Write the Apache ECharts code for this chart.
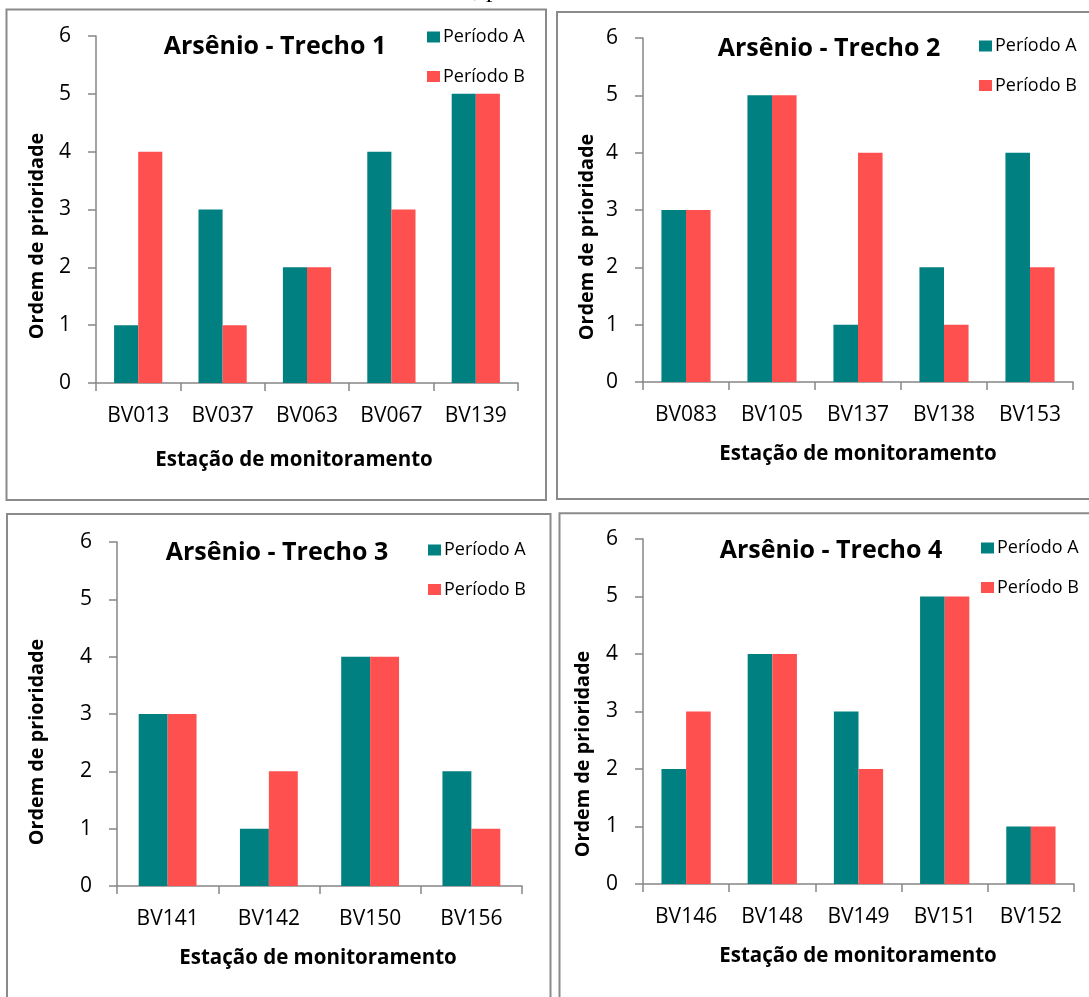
<!DOCTYPE html>
<html>
<head>
<meta charset="utf-8">
<script src="https://cdn.jsdelivr.net/npm/echarts@6/dist/echarts.min.js"></script>
<style>
html,body{margin:0;padding:0;background:#fff;}
#c{width:1089px;height:997px;}
</style>
</head>
<body>
<div id="c"></div>
<script>
// ---- data ----
const seriesNames = ['Período A', 'Período B'];
const titles = ['Arsênio - Trecho 1', 'Arsênio - Trecho 2', 'Arsênio - Trecho 3', 'Arsênio - Trecho 4'];
const cats1 = ['BV013', 'BV037', 'BV063', 'BV067', 'BV139'];
const a1 = [1, 3, 2, 4, 5];
const b1 = [4, 1, 2, 3, 5];
const cats2 = ['BV083', 'BV105', 'BV137', 'BV138', 'BV153'];
const a2 = [3, 5, 1, 2, 4];
const b2 = [3, 5, 4, 1, 2];
const cats3 = ['BV141', 'BV142', 'BV150', 'BV156'];
const a3 = [3, 1, 4, 2];
const b3 = [3, 2, 4, 1];
const cats4 = ['BV146', 'BV148', 'BV149', 'BV151', 'BV152'];
const a4 = [2, 4, 3, 5, 1];
const b4 = [3, 4, 2, 5, 1];
const yTicks = [0, 1, 2, 3, 4, 5, 6];
const xName = 'Estação de monitoramento';
const yName = 'Ordem de prioridade';

// ---- layout ----
const FONT = '"Open Sans", "Noto Sans", sans-serif';
const colA = '#008080', colB = '#FF5050';
const axisCol = '#868686';
const panels = [
  {cats: cats1, a: a1, b: b1, grid: {left: 96, top: 36, width: 422, height: 347},
   box: [6.5, 9.5, 539.5, 490.5], title: [275, 47], xn: [294, 460], yn: [37, 236], legend: [427, 28]},
  {cats: cats2, a: a2, b: b2, grid: {left: 643, top: 38, width: 430, height: 344},
   box: [557, 12, 540, 487], title: [829, 49], xn: [858, 454], yn: [587, 237], legend: [979, 37]},
  {cats: cats3, a: a3, b: b3, grid: {left: 117, top: 542, width: 405, height: 344},
   box: [7, 514, 543.5, 500], title: [277, 553], xn: [318, 958], yn: [37, 742], legend: [428, 541]},
  {cats: cats4, a: a4, b: b4, grid: {left: 643, top: 539, width: 431, height: 345},
   box: [559.5, 513.3, 540, 500], title: [831, 551], xn: [858, 956], yn: [583, 754], legend: [981, 539]}
];

const option = {
  animation: false,
  backgroundColor: '#fff',
  textStyle: {fontFamily: FONT},
  grid: [], xAxis: [], yAxis: [], series: [], legend: [], graphic: []
};

// top caption (cut off at the top edge in the original)
option.graphic.push({type: 'text', x: 480, y: -10, silent: true,
  style: {text: 'base nos dados de arsênio total,', fontSize: 26, fontFamily: '"Liberation Serif", serif', fill: '#000', align: 'right', verticalAlign: 'middle'}});
option.graphic.push({type: 'text', x: 486, y: -10, silent: true,
  style: {text: 'para cada trecho do rio das Velhas.', fontSize: 26, fontFamily: '"Liberation Serif", serif', fill: '#000', align: 'left', verticalAlign: 'middle'}});

panels.forEach((p, i) => {
  option.grid.push(Object.assign({containLabel: false}, p.grid));
  option.xAxis.push({
    type: 'category', gridIndex: i, data: p.cats,
    axisLine: {lineStyle: {color: axisCol, width: 1.5}},
    axisTick: {show: true, length: 8, lineStyle: {color: axisCol, width: 1.5}},
    axisLabel: {color: '#000', fontSize: 21, fontFamily: FONT, margin: 23},
    splitLine: {show: false}
  });
  option.yAxis.push({
    type: 'value', gridIndex: i, min: yTicks[0], max: yTicks[yTicks.length - 1], interval: 1,
    axisLine: {show: true, lineStyle: {color: axisCol, width: 1.5}},
    axisTick: {show: true, length: 8, inside: false, lineStyle: {color: axisCol, width: 1.5}},
    axisLabel: {color: '#000', fontSize: 21, fontFamily: FONT, margin: 25},
    splitLine: {show: false}
  });
  [p.a, p.b].forEach((vals, k) => {
    option.series.push({
      type: 'bar', name: seriesNames[k], xAxisIndex: i, yAxisIndex: i, data: vals,
      barGap: '0%', barCategoryGap: '42.86%',
      itemStyle: {color: k === 0 ? colA : colB}
    });
  });
  option.legend.push({
    data: seriesNames, orient: 'vertical', left: p.legend[0], top: p.legend[1],
    itemWidth: 13, itemHeight: 11, itemGap: 21.5, icon: 'rect', selectedMode: false,
    padding: 0,
    textStyle: {fontSize: 18, fontFamily: FONT, color: '#000', padding: [0, 0, 0, -2]}
  });
  option.graphic.push({type: 'rect', silent: true, z: -10,
    shape: {x: p.box[0], y: p.box[1], width: p.box[2], height: p.box[3]},
    style: {fill: 'none', stroke: '#8a8a8a', lineWidth: 2}});
  option.graphic.push({type: 'text', x: p.title[0], y: p.title[1], silent: true,
    style: {text: titles[i], font: 'bold 25px ' + FONT, fill: '#000', align: 'center', verticalAlign: 'middle'}});
  option.graphic.push({type: 'text', x: p.xn[0], y: p.xn[1], silent: true,
    style: {text: xName, font: 'bold 20.5px ' + FONT, fill: '#000', align: 'center', verticalAlign: 'middle'}});
  option.graphic.push({type: 'text', x: p.yn[0], y: p.yn[1], rotation: Math.PI / 2, silent: true,
    style: {text: yName, font: 'bold 19.8px ' + FONT, fill: '#000', align: 'center', verticalAlign: 'middle'}});
});

const chart = echarts.init(document.getElementById('c'), null, {renderer: 'canvas'});
chart.setOption(option);
</script>
</body>
</html>
